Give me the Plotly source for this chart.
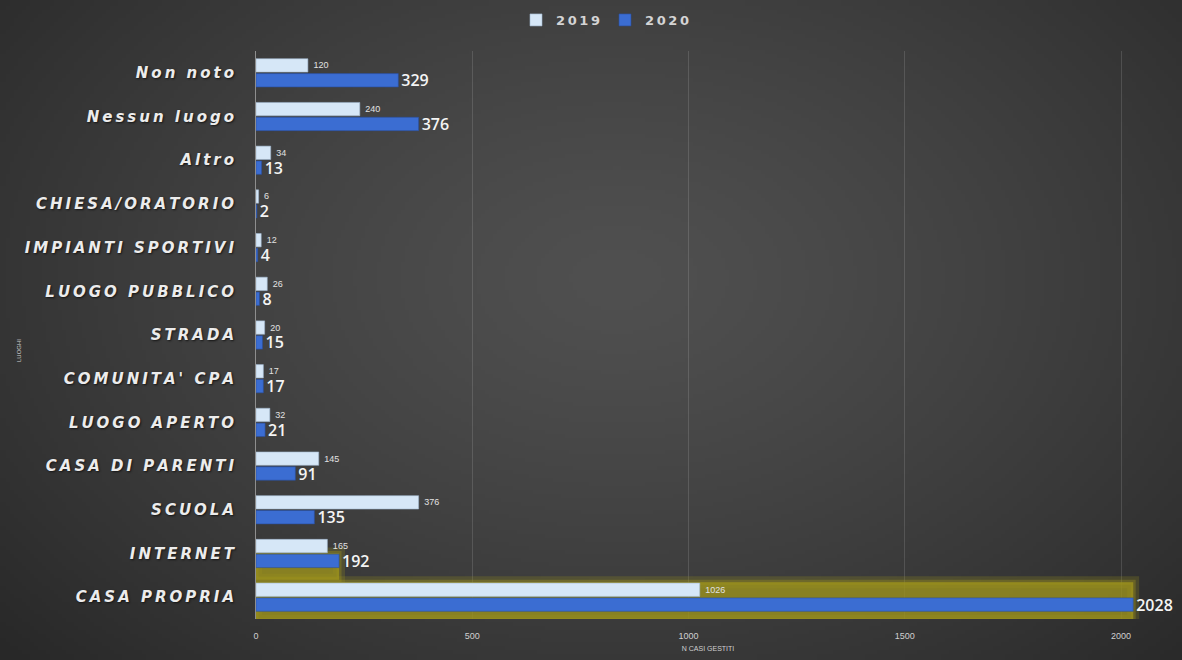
import base64
import struct
import zlib

import numpy as np
import plotly.graph_objects as go

# ---- data -----------------------------------------------------------------
luoghi = [
    "Non noto", "Nessun luogo", "Altro", "CHIESA/ORATORIO", "IMPIANTI SPORTIVI",
    "LUOGO PUBBLICO", "STRADA", "COMUNITA' CPA", "LUOGO APERTO",
    "CASA DI PARENTI", "SCUOLA", "INTERNET", "CASA PROPRIA",
]
casi_2019 = [120, 240, 34, 6, 12, 26, 20, 17, 32, 145, 376, 165, 1026]
casi_2020 = [329, 376, 13, 2, 4, 8, 15, 17, 21, 91, 135, 192, 2028]
evidenziati = ["INTERNET", "CASA PROPRIA"]
x_ticks = [0, 500, 1000, 1500, 2000]

# ---- figure geometry ------------------------------------------------------
W, H = 1182, 660
ML, MR, MT, MB = 256, 22, 51, 41
PW, PH = W - ML - MR, H - MT - MB


def spaced(s, sep="\u2009"):
    """Widen the tracking of a label with thin spaces."""
    return sep.join(s)


def png_uri(rgb):
    h, w, _ = rgb.shape
    raw = b"".join(b"\x00" + row.tobytes() for row in rgb)

    def chunk(tag, data):
        return (struct.pack(">I", len(data)) + tag + data
                + struct.pack(">I", zlib.crc32(tag + data) & 0xFFFFFFFF))

    png = (b"\x89PNG\r\n\x1a\n"
           + chunk(b"IHDR", struct.pack(">IIBBBBB", w, h, 8, 2, 0, 0, 0))
           + chunk(b"IDAT", zlib.compress(raw, 9))
           + chunk(b"IEND", b""))
    return "data:image/png;base64," + base64.b64encode(png).decode()


# radial dark-grey backdrop
gw, gh = 296, 165
yy, xx = np.mgrid[0:gh, 0:gw].astype(float)
cx, cy = gw * 0.52, gh * 0.42
r = np.sqrt(((xx - cx) / (gw * 0.62)) ** 2 + ((yy - cy) / (gh * 0.75)) ** 2)
lum = np.clip(80 - 34 * r ** 1.3, 40, 80)
bg = np.repeat(lum[:, :, None], 3, axis=2).astype(np.uint8)
bg_uri = png_uri(bg)

# ---- traces ---------------------------------------------------------------
glow_x = [casi_2020[luoghi.index(c)] for c in evidenziati]
glow_offset = [0.0, -0.34]
glow_width = [0.6, 0.88]

fig = go.Figure()

# soft yellow highlight behind the emphasised rows (base axes, drawn first)
fig.add_trace(go.Bar(
    y=evidenziati, x=glow_x, orientation="h", yaxis="y",
    offset=glow_offset, width=glow_width,
    marker=dict(color="rgba(150,142,28,0.55)",
                line=dict(color="rgba(150,142,28,0.25)", width=12)),
    showlegend=False, hoverinfo="skip",
))
fig.add_trace(go.Bar(
    y=evidenziati, x=glow_x, orientation="h", yaxis="y",
    offset=glow_offset, width=glow_width,
    marker=dict(color="rgba(160,150,30,0.55)",
                line=dict(color="rgba(160,150,30,0.35)", width=5)),
    showlegend=False, hoverinfo="skip",
))

fig.add_trace(go.Bar(
    name=spaced("2019"), y=luoghi, x=casi_2019, orientation="h", yaxis="y2",
    marker=dict(color="#d6e7f7", line=dict(color="#9fb6cc", width=0.6)),
    text=["\u00a0" + str(v) for v in casi_2019], textposition="outside",
    textfont=dict(family="Liberation Sans Narrow, Liberation Sans", size=9,
                  color="#e2e2e2"),
    cliponaxis=False, constraintext="none",
))
fig.add_trace(go.Bar(
    name=spaced("2020"), y=luoghi, x=casi_2020, orientation="h", yaxis="y2",
    marker=dict(color="#3b6dd2", line=dict(color="#2a4f9e", width=0.6)),
    text=[str(v) for v in casi_2020], textposition="outside",
    textfont=dict(family="Open Sans", size=16, color="#f4f4f4", weight=600),
    cliponaxis=False, constraintext="none",
))

cat_range = [len(luoghi) - 0.5, -0.5]

fig.update_layout(
    width=W, height=H,
    margin=dict(l=ML, r=MR, t=MT, b=MB, autoexpand=False),
    paper_bgcolor="#3b3b3b", plot_bgcolor="rgba(0,0,0,0)",
    barmode="group", bargap=0.32, bargroupgap=0.1,
    font=dict(family="DejaVu Sans", color="#e6e6e6"),
    images=[dict(
        source=bg_uri, xref="paper", yref="paper",
        x=-ML / PW, y=1 + MT / PH, sizex=W / PW, sizey=H / PH,
        xanchor="left", yanchor="top", sizing="stretch", layer="below",
    )],
    xaxis=dict(
        range=[0, 2090], tickvals=x_ticks,
        showgrid=True, gridcolor="rgba(255,255,255,0.13)", gridwidth=1,
        zeroline=False, showline=False,
        tickfont=dict(family="Liberation Sans Narrow, Liberation Sans",
                      size=9, color="#d0d0d0"),
        ticklabelstandoff=10,
        title=dict(text="N CASI GESTITI", standoff=6,
                   font=dict(family="Liberation Sans Narrow, Liberation Sans",
                             size=7, color="#d0d0d0")),
    ),
    yaxis=dict(
        type="category", categoryorder="array", categoryarray=luoghi,
        range=cat_range, tickvals=luoghi,
        ticktext=[spaced(c) for c in luoghi],
        tickfont=dict(family="DejaVu Sans", size=15, color="#ececec",
                      style="italic", weight="bold",
                      shadow="1px 1px 2px #151515"),
        ticklabelstandoff=18, showgrid=False, zeroline=False,
        showline=True, linecolor="#8e8e8e", linewidth=1,
    ),
    yaxis2=dict(
        type="category", categoryorder="array", categoryarray=luoghi,
        range=cat_range, overlaying="y", showticklabels=False,
        showgrid=False, zeroline=False, showline=False,
    ),
    legend=dict(
        orientation="h", x=(605 - ML) / PW, xanchor="center",
        y=1 + (MT - 20) / PH, yanchor="middle",
        font=dict(family="DejaVu Sans", size=13, color="#d4d4d4",
                  weight="bold"),
        bgcolor="rgba(0,0,0,0)", itemwidth=30, traceorder="normal",
    ),
    annotations=[dict(
        text="LUOGHI", textangle=-90, xref="paper", yref="paper",
        x=-(ML - 14) / PW, y=1 - (350 - MT) / PH, showarrow=False,
        font=dict(family="Liberation Sans Narrow, Liberation Sans", size=6,
                  color="#cfcfcf"),
    )],
)

fig.write_html("out.html")
